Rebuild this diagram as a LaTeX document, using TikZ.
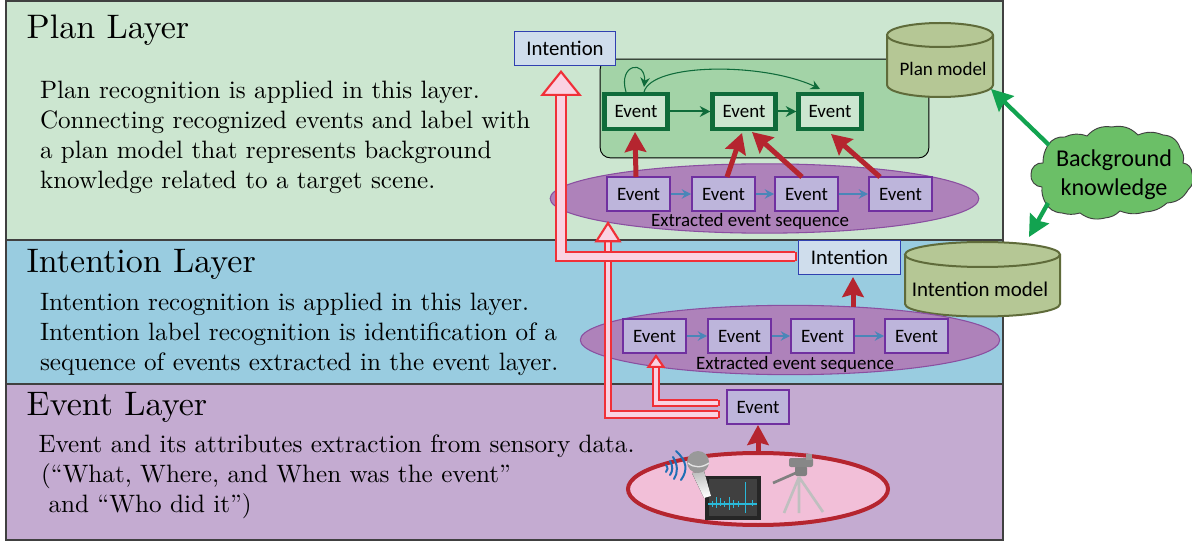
\documentclass[tikz,border=0pt]{standalone}
\usepackage{fontspec}
\newfontfamily\calfont{Carlito}
\usetikzlibrary{arrows.meta,shapes.geometric,bending}
\definecolor{planbg}{HTML}{CCE6D0}
\definecolor{intbg}{HTML}{99CCE0}
\definecolor{evbg}{HTML}{C4ABD1}
\definecolor{grect}{HTML}{A3D3A7}
\definecolor{dgreen}{HTML}{0F6B3A}
\definecolor{boxblue}{HTML}{CFDDEC}
\definecolor{boxedge}{HTML}{3040B0}
\definecolor{cylf}{HTML}{B5C795}
\definecolor{cyle}{HTML}{5F6B3A}
\definecolor{ellf}{HTML}{AE82BA}
\definecolor{elle}{HTML}{8A4FA0}
\definecolor{evf}{HTML}{BDB5DB}
\definecolor{eve}{HTML}{7030A0}
\definecolor{dred}{HTML}{B5252F}
\definecolor{bred}{HTML}{F03038}
\definecolor{pinkf}{HTML}{FAD2E2}
\definecolor{arrblue}{HTML}{4A86B8}
\definecolor{arrgreen}{HTML}{12A350}
\definecolor{cloudf}{HTML}{6BBF67}
\definecolor{pinkell}{HTML}{F2BFD8}
\definecolor{wave}{HTML}{1F6FB5}
\definecolor{wavec}{HTML}{2AB8D8}
\tikzset{
 x=0.75pt,y=-0.75pt,
 layer/.style={draw=black!75,line width=1pt},
 title/.style={anchor=north west,inner sep=0pt,scale=2.55,font=\fontsize{10}{12}\selectfont},
 body/.style={anchor=north west,inner sep=0pt,scale=1.885,align=left,font=\fontsize{10}{11.94}\selectfont},
 evtbase/.style={rectangle,inner sep=0pt,minimum width=47pt,minimum height=25.5pt,font=\calfont\fontsize{14.2}{16}\selectfont,text=black},
 evgreen/.style={evtbase,draw=dgreen,line width=3.3pt,fill=planbg,minimum width=47pt,minimum height=26pt},
 evpurple/.style={evtbase,draw=eve,line width=1.5pt,fill=evf},
 intbox/.style={rectangle,draw=boxedge,line width=.8pt,fill=boxblue,inner sep=0pt,minimum width=76pt,minimum height=26pt,font=\calfont\fontsize{15.6}{18}\selectfont},
 seq/.style={ellipse,draw=elle,line width=.8pt,fill=ellf,inner sep=0pt},
 seqlabel/.style={inner sep=0pt,font=\calfont\fontsize{14.2}{16}\selectfont},
 cylbody/.style={draw=cyle,line width=1.5pt,fill=cylf},
 cyllabel/.style={inner sep=0pt,font=\calfont\fontsize{14.3}{16}\selectfont},
 redarr/.style={draw=dred,line width=3.75pt,-{Stealth[length=15pt,width=16pt,inset=2pt]}},
 bluearr/.style={draw=arrblue,line width=1.3pt,-{Stealth[length=7pt,width=7pt]}},
 greenarr/.style={draw=dgreen,line width=1.5pt,-{Stealth[length=8pt,width=8pt]}},
 greencurve/.style={draw=dgreen,line width=.8pt,-{Stealth[length=7pt,width=7pt]}},
 knowarr/.style={draw=arrgreen,line width=3.2pt,-{Stealth[length=16pt,width=16pt,inset=2pt]}},
 blockarr/.style={draw=bred,line width=1.6pt,double=pinkf,double distance=#1,line join=miter},
}
\begin{document}
\begin{tikzpicture}
\useasboundingbox (0,0) rectangle (1192,541);
% layers
\path[layer,fill=planbg] (6,1) rectangle (1003,240);
\path[layer,fill=intbg] (6,240) rectangle (1003,384);
\path[layer,fill=evbg] (6,384) rectangle (1003,540);
% titles and texts
\node[title] (tplan) at (26,14) {Plan Layer};
\node[title] (tint) at (26,249) {Intention Layer};
\node[title] (tev) at (26,392) {Event Layer};
\node[body] (bplan) at (39.5,81) {Plan recognition is applied in this layer.\\Connecting recognized events and label with\\a plan model that represents background\\knowledge related to a target scene.};
\node[body] (bint) at (39.5,293) {Intention recognition is applied in this layer.\\Intention label recognition is identification of a\\sequence of events extracted in the event layer.};
\node[body] (bev) at (38,434.5) {Event and its attributes extraction from sensory data.\\\hspace*{1pt}(``What, Where, and When was the event''\\\hspace*{4pt}and ``Who did it'')};
% green area
\node[rectangle,draw=black,line width=.7pt,fill=grect,rounded corners=7.5pt,minimum width=246.5pt,minimum height=74pt,inner sep=0pt] (garea) at (764.5,108.5) {};
% plan model cylinder
\path[cylbody] (887,35) -- (887,85) arc[start angle=180,end angle=0,x radius=53,y radius=12] -- (993,35) arc[start angle=0,end angle=-360,x radius=53,y radius=12];
\node[cyllabel] (planm) at (943,69) {Plan model};
% intention box top
\node[intbox] (int1) at (565,48.5) {Intention};
% plan events
\node[evgreen] (g1) at (636,111.5) {Event};
\node[evgreen] (g2) at (744,111.5) {Event};
\node[evgreen] (g3) at (830,111.5) {Event};
\draw[greenarr] (g1) -- (g2);
\draw[greenarr] (g2) -- (g3);
\coordinate (la) at (626,92);
\coordinate (lb) at (644,87);
\coordinate (lc) at (644,92);
\coordinate (ld) at (820,89);
\draw[greencurve] (la) .. controls (617,62) and (650,58) .. (lb);
\draw[greencurve] (lc) .. controls (652,62) and (770,62) .. (ld);
% plan sequence
\node[seq,minimum width=321.5pt,minimum height=52pt] (seq1) at (764.5,198.5) {};
\node[evpurple] (p1) at (638.5,194) {Event};
\node[evpurple] (p2) at (723.5,194) {Event};
\node[evpurple] (p3) at (806.5,194) {Event};
\node[evpurple] (p4) at (900.5,194) {Event};
\draw[bluearr] (p1) -- (p2);
\draw[bluearr] (p2) -- (p3);
\draw[bluearr] (p3) -- (p4);
\node[seqlabel] (l1) at (750,221) {Extracted event sequence};
\coordinate (t1) at (635,132);
\coordinate (t2) at (742,133);
\coordinate (t3) at (752,132);
\coordinate (t4) at (831,134);
\draw[redarr] (636,177) -- (t1);
\draw[redarr] (727,177) -- (t2);
\draw[redarr] (802,177) -- (t3);
\draw[redarr] (880,177) -- (t4);
% intention layer
\path[cylbody] (905,254.5) -- (905,304) arc[start angle=180,end angle=0,x radius=77.5,y radius=12.5] -- (1060,254.5) arc[start angle=0,end angle=-360,x radius=77.5,y radius=12.5];
\node[cyllabel,font=\calfont\fontsize{15.7}{18}\selectfont] (intm) at (980,289) {Intention model};
\node[seq,minimum width=314.5pt,minimum height=52pt] (seq2) at (790,340) {};
\node[evpurple] (q1) at (654.5,336) {Event};
\node[evpurple] (q2) at (739.5,336) {Event};
\node[evpurple] (q3) at (822.5,336) {Event};
\node[evpurple] (q4) at (916.5,336) {Event};
\draw[bluearr] (q1) -- (q2);
\draw[bluearr] (q2) -- (q3);
\draw[bluearr] (q3) -- (q4);
\node[seqlabel] (l2) at (795,364) {Extracted event sequence};
% event layer
\node[ellipse,draw=dred,line width=3pt,fill=pinkell,minimum width=195pt,minimum height=54pt,inner sep=0pt] (sensor) at (758,489) {};
\node[evpurple] (e0) at (758,407) {Event};
\coordinate (s0) at (758,452);
\draw[redarr] (s0) -- (e0);
\coordinate (s1) at (853,307);
\node[intbox] (int2) at (849.5,257.5) {Intention};
\draw[redarr] (s1) -- (853,277);
% block arrows
\coordinate (a3s) at (720,403);
\coordinate (a3c) at (656,403);
\coordinate (a3t) at (656,354);
\coordinate (a2s) at (720,414.5);
\coordinate (a2c) at (608,414.5);
\coordinate (a2t) at (608,221);
\coordinate (a1s) at (797,256.5);
\coordinate (a1c) at (561,256.5);
\coordinate (a1t) at (561,70);
\draw[blockarr=3.5pt,{Bar[width=5pt,line width=1.6pt]}-{Triangle[length=10.5pt,width=14pt,fill=pinkf,line width=1.6pt]}] (a3s) -- (a3c) -- (a3t);
\draw[blockarr=3.5pt,{Bar[width=5pt,line width=1.6pt]}-{Triangle[length=16pt,width=20pt,fill=pinkf,line width=1.6pt]}] (a2s) -- (a2c) -- (a2t);
\draw[blockarr=5.5pt,{Bar[width=7pt,line width=1.6pt]}-{Triangle[length=19.5pt,width=31pt,fill=pinkf,line width=1.6pt]}] (a1s) -- (a1c) -- (a1t);
% sensors: monitor
\fill[black!85] (705,476) rectangle (761,520);
\fill[black!75] (709,479) rectangle (757,516);
\draw[wavec,line width=1.3pt] (708,504) -- (757,504);
\draw[wavec,line width=.5pt] (712,501) -- (712,507) (716,497) -- (716,508) (720,498) -- (720,506) (724,501) -- (724,507) (729,497) -- (729,510) (733,500) -- (733,508) (738,501) -- (738,507) (745,482) -- (745,513) (752,500) -- (752,506);
% waves
\draw[wave,line width=1.5pt,line cap=round]
 (666,465) .. controls (668,468) and (668,470) .. (666,472)
 (670,461) .. controls (673,466) and (673,471) .. (670,475)
 (673,457) .. controls (678,465) and (678,473) .. (674,479)
 (676,451) .. controls (687,461) and (688,470) .. (681,480);
% microphone
\fill[left color=black!25,right color=white,shading angle=10] (692,473) -- (704,471) -- (711,496) -- (704,498) -- cycle;
\fill[black!40] (698,462) circle[radius=11];
\draw[black!10,line width=1pt] (688,463) .. controls (694,468) and (702,468) .. (709,463);
% camera
\draw[black!25,line width=2pt] (799,477) -- (784,513) (799,477) -- (799,513) (799,477) -- (823,512);
\draw[black!50,line width=2pt] (773,483) -- (798,472);
\fill[black!50,rounded corners=1.5pt] (795,466) rectangle (807,476);
\fill[black!47,rounded corners=1.5pt] (789,458) rectangle (813,467);
\fill[black!40] (806,454) rectangle (812,460);
% cloud
\path[draw=black!75,line width=.7pt,fill=cloudf]
 (1048,145) to[bend left=30] (1065,137) to[bend left=22] (1087,136) to[bend left=28] (1112,127)
 to[bend left=28] (1138,135) to[bend left=22] (1163,135) to[bend left=35] (1180,148)
 to[bend left=25] (1183,163) to[bend left=40] (1192,173) to[bend left=35] (1188,190)
 to[bend left=28] (1167,203) to[bend left=18] (1145,212) to[bend left=18] (1120,211)
 to[bend left=18] (1105,218) to[bend left=25] (1080,213) to[bend left=15] (1062,213)
 to[bend left=30] (1045,202) to[bend left=15] (1042,187) to[bend left=50] (1031,174)
 to[bend left=50] (1043,163) to[bend left=15] (1048,145);
\node[align=center,inner sep=0pt,font=\calfont\fontsize{18.1}{21.75}\selectfont] (cloudt) at (1114,175) {Background\\knowledge};
\coordinate (k1) at (1049,145);
\coordinate (k2) at (1048,203);
\coordinate (kt1) at (991,89);
\coordinate (kt2) at (1029,237);
\draw[knowarr] (k1) -- (kt1);
\draw[knowarr] (k2) -- (kt2);
\end{tikzpicture}
\end{document}
